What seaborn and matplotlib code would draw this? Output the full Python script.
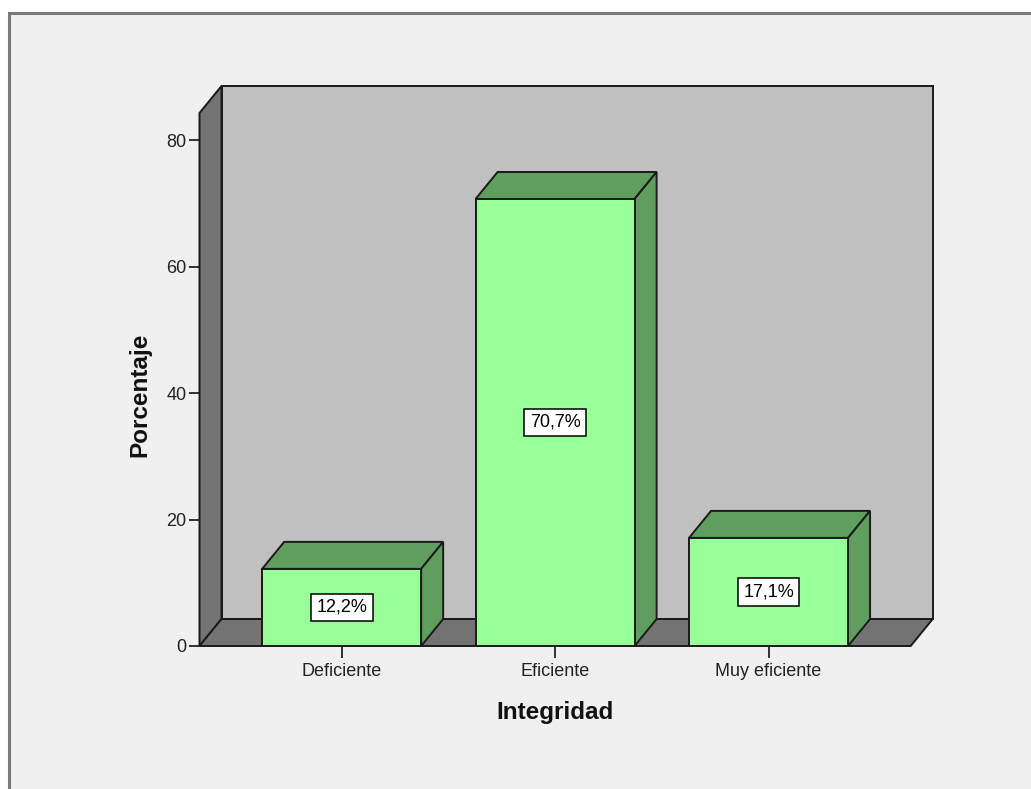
import matplotlib
matplotlib.use("Agg")
import matplotlib.pyplot as plt
import seaborn as sns
import pandas as pd
from matplotlib.patches import Polygon, Rectangle

categories = ["Deficiente", "Eficiente", "Muy eficiente"]
percentages = [12.2, 70.7, 17.1]
value_labels = ["12,2%", "70,7%", "17,1%"]
y_ticks = [0, 20, 40, 60, 80]

sns.set_theme(style="white")
plt.rcParams["font.family"] = ["Liberation Sans", "DejaVu Sans"]

W, H = 1031, 789
fig = plt.figure(figsize=(W / 100, H / 100), dpi=100)
fig.patch.set_facecolor("white")
# outer frame
fig.patches.append(Rectangle((9 / W, -0.05), 1.1, (H - 13) / H + 0.05, transform=fig.transFigure,
                             facecolor="#f0f0f0", edgecolor="#7a7a7a", linewidth=2.2, zorder=-5))

left_px, right_px, bottom_px, top_px = 199.5, 932.7, 646, 86
ax = fig.add_axes([left_px / W, (H - bottom_px) / H, (right_px - left_px) / W, (bottom_px - top_px) / H])
ax.set_facecolor("none")
ax.set_zorder(2)

DX = 22 / 213.4   # depth offset in category units
DY = 27 / 6.325   # depth offset in value units
XL, XR = -0.666, 2.666
YTOP_FRONT = 84.3
LW = 1.4

df = pd.DataFrame({"Integridad": categories, "Porcentaje": percentages})
sns.barplot(data=df, x="Integridad", y="Porcentaje", color="#99ff99", width=0.745,
            edgecolor="#1a1a1a", linewidth=LW, saturation=1, ax=ax, zorder=3)

ax.set_xlim(XL, XR + DX)
ax.set_ylim(0, YTOP_FRONT + DY)

edge = dict(edgecolor="#1a1a1a", linewidth=LW, joinstyle="miter", clip_on=False)
# back wall
ax.add_patch(Rectangle((XL + DX, DY), XR - XL, YTOP_FRONT, facecolor="#c0c0c0", zorder=0.5, **edge))
# left wall
ax.add_patch(Polygon([(XL, 0), (XL, YTOP_FRONT), (XL + DX, YTOP_FRONT + DY), (XL + DX, DY)],
                     closed=True, facecolor="#737373", zorder=0.6, **edge))
# floor
ax.add_patch(Polygon([(XL, 0), (XR, 0), (XR + DX, DY), (XL + DX, DY)],
                     closed=True, facecolor="#737373", zorder=0.6, **edge))

for p, lab in zip(list(ax.containers[0]), value_labels):
    x0, w, h = p.get_x(), p.get_width(), p.get_height()
    x1 = x0 + w
    ax.add_patch(Polygon([(x0, h), (x1, h), (x1 + DX, h + DY), (x0 + DX, h + DY)], closed=True,
                         facecolor="#609e60", zorder=2.5, **edge))
    ax.add_patch(Polygon([(x1, 0), (x1, h), (x1 + DX, h + DY), (x1 + DX, DY)], closed=True,
                         facecolor="#609e60", zorder=2.5, **edge))
    ax.text(x0 + w / 2, h / 2, lab, ha="center", va="center", fontsize=13, color="black", zorder=5,
            bbox=dict(boxstyle="square,pad=0.3", facecolor="white", edgecolor="black", linewidth=1.1))

for s in ["top", "right", "bottom", "left"]:
    ax.spines[s].set_visible(False)

ax.set_yticks(y_ticks)
ax.set_yticklabels([str(t) for t in y_ticks])
ax.tick_params(axis="y", left=True, length=8, width=1.3, color="#222222", pad=1.5, labelsize=13, labelcolor="#222222")
ax.tick_params(axis="x", bottom=True, length=8.6, width=1.3, color="#222222", pad=4, labelsize=13, labelcolor="#222222")

ax.set_xlabel("Integridad", fontsize=17.5, fontweight="bold", color="#111111")
ax.set_ylabel("Porcentaje", fontsize=17.5, fontweight="bold", color="#111111")
ax.xaxis.set_label_coords((555 - left_px) / (right_px - left_px), (bottom_px - 712) / (bottom_px - top_px))
ax.xaxis.label.set_va("center")
ax.yaxis.set_label_coords((140 - left_px) / (right_px - left_px), (bottom_px - 395) / (bottom_px - top_px))
ax.yaxis.label.set_va("center")

fig.savefig("out.png", dpi=100, facecolor=fig.get_facecolor())
